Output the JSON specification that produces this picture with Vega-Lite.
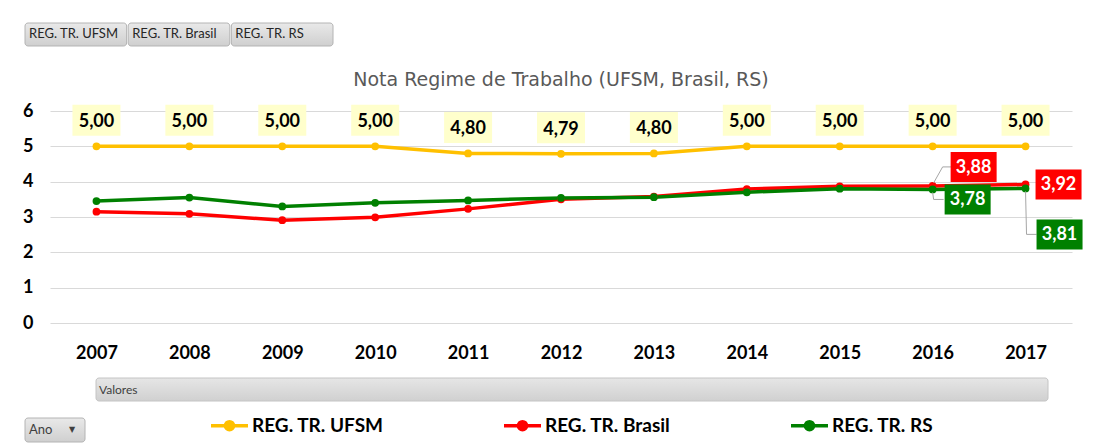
{
  "$schema": "https://vega.github.io/schema/vega-lite/v6.json",
  "padding": {"left": 22, "top": 22, "right": 0, "bottom": 0},
  "spacing": 15,
  "background": "#ffffff",
  "config": {"font": "Lato", "view": {"stroke": null}},
  "datasets": {
    "notas": [
      {"ano": "2007", "serie": "REG. TR. UFSM", "valor": 5.00},
      {"ano": "2008", "serie": "REG. TR. UFSM", "valor": 5.00},
      {"ano": "2009", "serie": "REG. TR. UFSM", "valor": 5.00},
      {"ano": "2010", "serie": "REG. TR. UFSM", "valor": 5.00},
      {"ano": "2011", "serie": "REG. TR. UFSM", "valor": 4.80},
      {"ano": "2012", "serie": "REG. TR. UFSM", "valor": 4.79},
      {"ano": "2013", "serie": "REG. TR. UFSM", "valor": 4.80},
      {"ano": "2014", "serie": "REG. TR. UFSM", "valor": 5.00},
      {"ano": "2015", "serie": "REG. TR. UFSM", "valor": 5.00},
      {"ano": "2016", "serie": "REG. TR. UFSM", "valor": 5.00},
      {"ano": "2017", "serie": "REG. TR. UFSM", "valor": 5.00},
      {"ano": "2007", "serie": "REG. TR. Brasil", "valor": 3.15},
      {"ano": "2008", "serie": "REG. TR. Brasil", "valor": 3.09},
      {"ano": "2009", "serie": "REG. TR. Brasil", "valor": 2.91},
      {"ano": "2010", "serie": "REG. TR. Brasil", "valor": 2.99},
      {"ano": "2011", "serie": "REG. TR. Brasil", "valor": 3.23},
      {"ano": "2012", "serie": "REG. TR. Brasil", "valor": 3.50},
      {"ano": "2013", "serie": "REG. TR. Brasil", "valor": 3.58},
      {"ano": "2014", "serie": "REG. TR. Brasil", "valor": 3.79},
      {"ano": "2015", "serie": "REG. TR. Brasil", "valor": 3.87},
      {"ano": "2016", "serie": "REG. TR. Brasil", "valor": 3.88},
      {"ano": "2017", "serie": "REG. TR. Brasil", "valor": 3.92},
      {"ano": "2007", "serie": "REG. TR. RS", "valor": 3.45},
      {"ano": "2008", "serie": "REG. TR. RS", "valor": 3.55},
      {"ano": "2009", "serie": "REG. TR. RS", "valor": 3.30},
      {"ano": "2010", "serie": "REG. TR. RS", "valor": 3.40},
      {"ano": "2011", "serie": "REG. TR. RS", "valor": 3.47},
      {"ano": "2012", "serie": "REG. TR. RS", "valor": 3.54},
      {"ano": "2013", "serie": "REG. TR. RS", "valor": 3.56},
      {"ano": "2014", "serie": "REG. TR. RS", "valor": 3.70},
      {"ano": "2015", "serie": "REG. TR. RS", "valor": 3.80},
      {"ano": "2016", "serie": "REG. TR. RS", "valor": 3.78},
      {"ano": "2017", "serie": "REG. TR. RS", "valor": 3.81}
    ],
    "botoes": [
      {"botao": "REG. TR. UFSM"},
      {"botao": "REG. TR. Brasil"},
      {"botao": "REG. TR. RS"}
    ]
  },
  "vconcat": [
    {
      "width": 308,
      "height": 33,
      "data": {"name": "botoes"},
      "layer": [
        {
          "mark": {
            "type": "bar",
            "cornerRadius": 3,
            "stroke": "#b4b4b4",
            "strokeWidth": 1,
            "xOffset": -25,
            "x2Offset": -25,
            "fill": {"gradient": "linear", "x1": 0, "y1": 0, "x2": 0, "y2": 1, "stops": [{"offset": 0, "color": "#e9e9e9"}, {"offset": 1, "color": "#cfcfcf"}]}
          },
          "encoding": {
            "x": {"field": "botao", "type": "nominal", "sort": null, "scale": {"paddingInner": 0.015, "paddingOuter": 0}, "axis": null},
            "y": {"datum": "campos", "type": "nominal", "scale": {"paddingInner": 0, "paddingOuter": 0.2174, "align": 0}, "axis": null}
          }
        },
        {
          "mark": {"type": "text", "align": "left", "baseline": "middle", "dx": -21, "fontSize": 13, "color": "#262626"},
          "encoding": {
            "x": {"field": "botao", "type": "nominal", "sort": null, "bandPosition": 0},
            "y": {"datum": "campos", "type": "nominal", "bandPosition": 0.5},
            "text": {"field": "botao"}
          }
        }
      ]
    },
    {
      "width": 1022,
      "height": 212,
      "title": {"text": "Nota Regime de Trabalho (UFSM, Brasil, RS)", "font": "DejaVu Sans", "fontSize": 19, "fontWeight": "normal", "color": "#595959", "offset": 12, "anchor": "middle"},
      "data": {"name": "notas"},
      "encoding": {
        "x": {"field": "ano", "type": "ordinal", "scale": {"type": "point", "padding": 0.5},
              "axis": {"labelFontSize": 18, "labelFontWeight": "bold", "labelColor": "#000000", "labelPadding": 21, "ticks": false, "tickSize": 0, "domain": false, "grid": false, "title": null, "labelAngle": 0}},
        "y": {"field": "valor", "type": "quantitative", "scale": {"domain": [0, 6], "nice": false},
              "axis": {"values": [0, 1, 2, 3, 4, 5, 6], "labelFontSize": 18, "labelFontWeight": "bold", "labelColor": "#000000", "labelPadding": 17, "ticks": false, "tickSize": 0, "domain": false, "gridColor": "#d9d9d9", "gridWidth": 1, "title": null}}
      },
      "layer": [
        {
          "mark": {"type": "line", "strokeWidth": 3.5},
          "encoding": {
            "color": {"field": "serie", "type": "nominal",
              "scale": {"domain": ["REG. TR. UFSM", "REG. TR. Brasil", "REG. TR. RS"], "range": ["#FFC000", "#FF0000", "#008000"]},
              "legend": {"orient": "none", "legendX": 159, "legendY": 382, "direction": "horizontal", "title": null,
                "symbolType": "M-1,0L1,0M-0.22,0A0.22,0.22,0,1,1,0.22,0A0.22,0.22,0,1,1,-0.22,0Z",
                "symbolSize": 1369, "symbolStrokeWidth": 3.5, "labelFontSize": 19, "labelFontWeight": "bold", "labelColor": "#000000",
                "columnPadding": 113, "labelOffset": 2, "padding": 0,
                "encode": {"symbols": {"update": {"fill": {"scale": "color", "field": "value"}, "stroke": {"scale": "color", "field": "value"}, "opacity": {"value": 1}}}}}
            }
          }
        },
        {
          "mark": {"type": "circle", "size": 60, "opacity": 1},
          "encoding": {"color": {"field": "serie", "type": "nominal"}}
        },
        {
          "transform": [{"filter": "datum.serie === 'REG. TR. UFSM'"}],
          "mark": {"type": "point", "shape": "M-1,-0.646L1,-0.646L1,0.646L-1,0.646Z", "size": 2304, "filled": true, "fill": "#FFFFCC", "opacity": 1, "strokeWidth": 0, "yOffset": -26}
        },
        {
          "transform": [{"filter": "datum.serie === 'REG. TR. UFSM'"}, {"calculate": "replace(format(datum.valor, '.2f'), '.', ',')", "as": "rotulo"}],
          "mark": {"type": "text", "fontSize": 18, "fontWeight": "bold", "color": "#000000", "baseline": "middle", "dy": -24},
          "encoding": {"text": {"field": "rotulo"}}
        },
        {
          "transform": [{"filter": "datum.serie === 'REG. TR. Brasil' && datum.ano === '2016'"}],
          "mark": {"type": "rule", "color": "#a6a6a6", "strokeWidth": 1, "xOffset": 1, "yOffset": -3, "x2Offset": 10, "y2Offset": -19},
          "encoding": {"x2": {"field": "ano"}, "y2": {"field": "valor"}}
        },
        {
          "transform": [{"filter": "datum.serie === 'REG. TR. Brasil' && datum.ano === '2016'"}],
          "mark": {"type": "rule", "color": "#a6a6a6", "strokeWidth": 1, "xOffset": 10, "yOffset": -19, "x2Offset": 19, "y2Offset": -19},
          "encoding": {"x2": {"field": "ano"}, "y2": {"field": "valor"}}
        },
        {
          "transform": [{"filter": "datum.serie === 'REG. TR. RS' && datum.ano === '2016'"}],
          "mark": {"type": "rule", "color": "#a6a6a6", "strokeWidth": 1, "xOffset": 0, "yOffset": 3, "x2Offset": 1, "y2Offset": 10},
          "encoding": {"x2": {"field": "ano"}, "y2": {"field": "valor"}}
        },
        {
          "transform": [{"filter": "datum.serie === 'REG. TR. RS' && datum.ano === '2016'"}],
          "mark": {"type": "rule", "color": "#a6a6a6", "strokeWidth": 1, "xOffset": 1, "yOffset": 10, "x2Offset": 11, "y2Offset": 10},
          "encoding": {"x2": {"field": "ano"}, "y2": {"field": "valor"}}
        },
        {
          "transform": [{"filter": "datum.serie === 'REG. TR. RS' && datum.ano === '2017'"}],
          "mark": {"type": "rule", "color": "#a6a6a6", "strokeWidth": 1, "xOffset": 0, "yOffset": 3, "x2Offset": 1, "y2Offset": 46},
          "encoding": {"x2": {"field": "ano"}, "y2": {"field": "valor"}}
        },
        {
          "transform": [{"filter": "datum.serie === 'REG. TR. RS' && datum.ano === '2017'"}],
          "mark": {"type": "rule", "color": "#a6a6a6", "strokeWidth": 1, "xOffset": 1, "yOffset": 46, "x2Offset": 11, "y2Offset": 46},
          "encoding": {"x2": {"field": "ano"}, "y2": {"field": "valor"}}
        },
        {
          "transform": [{"filter": "datum.serie === 'REG. TR. Brasil' && datum.ano === '2016'"}],
          "mark": {"type": "point", "shape": "M-1,-0.652L1,-0.652L1,0.652L-1,0.652Z", "size": 2116, "filled": true, "fill": "#FF0000", "opacity": 1, "strokeWidth": 0, "xOffset": 41, "yOffset": -19}
        },
        {
          "transform": [{"filter": "datum.serie === 'REG. TR. Brasil' && datum.ano === '2016'"}, {"calculate": "replace(format(datum.valor, '.2f'), '.', ',')", "as": "rotulo"}],
          "mark": {"type": "text", "fontSize": 18, "fontWeight": "bold", "color": "#ffffff", "baseline": "middle", "dx": 41, "dy": -18},
          "encoding": {"text": {"field": "rotulo"}}
        },
        {
          "transform": [{"filter": "datum.serie === 'REG. TR. RS' && datum.ano === '2016'"}],
          "mark": {"type": "point", "shape": "M-1,-0.652L1,-0.652L1,0.652L-1,0.652Z", "size": 2116, "filled": true, "fill": "#008000", "opacity": 1, "strokeWidth": 0, "xOffset": 35, "yOffset": 10}
        },
        {
          "transform": [{"filter": "datum.serie === 'REG. TR. RS' && datum.ano === '2016'"}, {"calculate": "replace(format(datum.valor, '.2f'), '.', ',')", "as": "rotulo"}],
          "mark": {"type": "text", "fontSize": 18, "fontWeight": "bold", "color": "#ffffff", "baseline": "middle", "dx": 35, "dy": 11},
          "encoding": {"text": {"field": "rotulo"}}
        },
        {
          "transform": [{"filter": "datum.serie === 'REG. TR. Brasil' && datum.ano === '2017'"}],
          "mark": {"type": "point", "shape": "M-1,-0.652L1,-0.652L1,0.652L-1,0.652Z", "size": 2116, "filled": true, "fill": "#FF0000", "opacity": 1, "strokeWidth": 0, "xOffset": 33, "yOffset": 0}
        },
        {
          "transform": [{"filter": "datum.serie === 'REG. TR. Brasil' && datum.ano === '2017'"}, {"calculate": "replace(format(datum.valor, '.2f'), '.', ',')", "as": "rotulo"}],
          "mark": {"type": "text", "fontSize": 18, "fontWeight": "bold", "color": "#ffffff", "baseline": "middle", "dx": 33, "dy": 1},
          "encoding": {"text": {"field": "rotulo"}}
        },
        {
          "transform": [{"filter": "datum.serie === 'REG. TR. RS' && datum.ano === '2017'"}],
          "mark": {"type": "point", "shape": "M-1,-0.652L1,-0.652L1,0.652L-1,0.652Z", "size": 2116, "filled": true, "fill": "#008000", "opacity": 1, "strokeWidth": 0, "xOffset": 34, "yOffset": 46}
        },
        {
          "transform": [{"filter": "datum.serie === 'REG. TR. RS' && datum.ano === '2017'"}, {"calculate": "replace(format(datum.valor, '.2f'), '.', ',')", "as": "rotulo"}],
          "mark": {"type": "text", "fontSize": 18, "fontWeight": "bold", "color": "#ffffff", "baseline": "middle", "dx": 34, "dy": 47},
          "encoding": {"text": {"field": "rotulo"}}
        }
      ]
    },
    {
      "width": 998,
      "height": 23,
      "data": {"values": [{"campo": "Valores"}]},
      "layer": [
        {
          "mark": {
            "type": "bar",
            "cornerRadius": 3,
            "stroke": "#c4c4c4",
            "strokeWidth": 1,
            "fill": {"gradient": "linear", "x1": 0, "y1": 0, "x2": 0, "y2": 1, "stops": [{"offset": 0, "color": "#e6e6e6"}, {"offset": 1, "color": "#d0d0d0"}]}
          },
          "encoding": {
            "x": {"field": "campo", "type": "nominal", "scale": {"paddingInner": 0, "paddingOuter": 0.02416, "align": 1}, "axis": null}
          }
        },
        {
          "mark": {"type": "text", "align": "left", "baseline": "middle", "dx": 3, "fontSize": 12, "color": "#404040"},
          "encoding": {
            "x": {"field": "campo", "type": "nominal", "bandPosition": 0},
            "text": {"field": "campo"}
          }
        }
      ]
    },
    {
      "width": 60,
      "height": 24,
      "data": {"values": [{"campo": "Ano"}]},
      "layer": [
        {
          "mark": {
            "type": "bar",
            "cornerRadius": 3,
            "stroke": "#b4b4b4",
            "strokeWidth": 1,
            "xOffset": -25,
            "x2Offset": -25,
            "fill": {"gradient": "linear", "x1": 0, "y1": 0, "x2": 0, "y2": 1, "stops": [{"offset": 0, "color": "#e9e9e9"}, {"offset": 1, "color": "#cfcfcf"}]}
          },
          "encoding": {
            "x": {"field": "campo", "type": "nominal", "scale": {"paddingInner": 0, "paddingOuter": 0}, "axis": null}
          }
        },
        {
          "mark": {"type": "text", "align": "left", "baseline": "middle", "dx": -21, "fontSize": 13, "color": "#404040"},
          "encoding": {
            "x": {"field": "campo", "type": "nominal", "bandPosition": 0},
            "text": {"field": "campo"}
          }
        },
        {
          "mark": {"type": "text", "align": "center", "baseline": "middle", "dx": 22, "fontSize": 8, "color": "#404040", "text": "▼", "font": "DejaVu Sans"},
          "encoding": {
            "x": {"field": "campo", "type": "nominal", "bandPosition": 0}
          }
        }
      ]
    }
  ]
}
